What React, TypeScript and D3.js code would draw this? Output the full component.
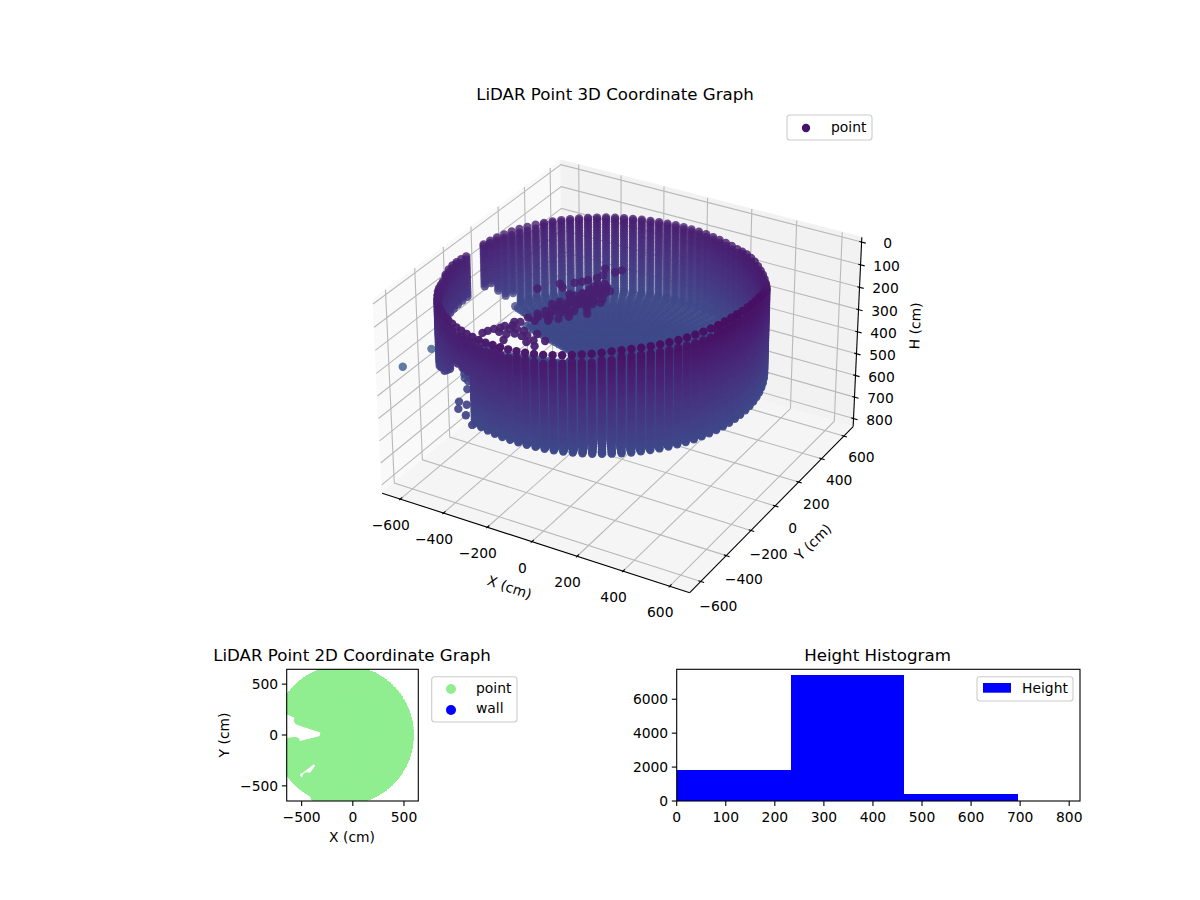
import * as d3 from "d3";
import { useEffect, useRef } from "react";

// wall columns of the scan: azimuth (deg) and the height where each column starts
const wallAzimuths = [
  0, 3.3, 6.6, 9.9, 13.2, 16.5, 19.8, 23.1, 26.4, 29.7,
  33, 36.3, 39.6, 42.9, 46.2, 49.5, 52.8, 56.1, 59.4, 62.7,
  66, 69.3, 72.6, 75.9, 79.2, 82.5, 85.8, 89.1, 92.4, 95.7,
  99, 102.3, 105.6, 108.9, 112.2, 115.5, 118.8, 122.1, 125.4, 128.7,
  132, 135.3, 138.6, 141.9, 145.2, 148.5, 151.8, 155.1, 158.4, 161.7,
  165, 168.3, 171.6, 174.9, 178.2, 181.5, 184.8, 188.1, 191.4, 194.7,
  198, 201.3, 204.6, 207.9, 211.2, 214.5, 217.8, 221.1, 224.4, 227.7,
  231, 234.3, 237.6, 240.9, 244.2, 247.5, 250.8, 254.1, 257.4, 260.7,
  264, 267.3, 270.6, 273.9, 277.2, 280.5, 283.8, 287.1, 290.4, 293.7,
  297, 300.3, 303.6, 306.9, 310.2, 313.5, 316.8, 320.1, 323.4, 326.7,
  330, 333.3, 336.6, 339.9, 343.2, 346.5, 349.8, 353.1, 356.4,
];
const wallTops = [
  2, 6, 10, 16, 25, 36, 49, 62, 74, 84,
  89, 90, 91, 92, 91, 90, 91, 93, 98, 103,
  105, 106, 107, 108, 108, 109, 110, 110, 110, 111,
  111, 112, 112, 112, 112, 112, 112, 112, 112, 112,
  112, 112, 113, 113, 114, 115, 115, 116, 118, 119,
  121, 124, 128, 132, 131, 127, 123, 120, 119, 124,
  134, 130, 125, 120, 118, 116, 110, 104, 100, 97,
  94, 90, 86, 84, 81, 78, 75, 72, 70, 66,
  63, 60, 57, 54, 51, 47, 42, 37, 32, 27,
  22, 17, 12, 9, 7, 6, 5, 4, 3, 2,
  1, 0, -1, -2, -3, -4, -4, -3, -1,
];
const wallRows = [
  12, 24, 36, 48, 60, 72, 84, 96, 108, 120, 132, 144, 156, 168, 180, 192, 204, 216, 228, 240,
  252, 264, 276, 288, 300, 312, 324, 336, 348, 360, 372, 384, 396, 408, 420, 432, 444, 450,
];
// sectors where the wall is cut short (door / window on the left side)
const cutFrom = [155, 158.5, 162, 165, 168.5, 175, 200, 204, 215, 222, 229, 236];
const cutTo = [158.5, 162, 165, 168.5, 175, 200, 204, 215, 222, 229, 236, 250];
const cutDepth = [405, 360, 323, 320, 0, 320, 370, 410, 380, 350, 300, 250];

// the front rim stands apart from the rows below it
const rimStart = 215;
const rimEnd = 25;

const floorHeight = 450;
const floorRadii = [
  20, 40, 60, 80, 100, 120, 140, 160, 180, 200, 220, 240, 260, 280, 300, 320, 340, 360, 380, 400,
  420, 440, 460, 480, 500, 520, 540, 560, 580, 600, 620,
];
// holes in the floor (azimuth range, radius range)
const holeFrom = [163, 158, 219, 203];
const holeTo = [192, 186, 231, 252];
const holeMinR = [155, 470, 380, 560];
const holeMaxR = [470, 700, 550, 700];

const wallRadius = 635;
const roomCenterX = -90;

// furniture and stray returns
const clutterX = [
  -121, -136, -186, -165, -174, -196, -209, -229, -108, -119, -119, -75, -143, -199, -250, -275, -157, -126, -82, -68,
  -159, -109, -60, -217, -210, -176, -210, -161, -205, -330, -248, -268, -283, -255, -231, -277, -306, -318, -327, -245,
  -200, -147, -104, -90, -144, -187, -229, -210, -143, -97, -151, -121, -179, -190, -135, -115,
  -120, -140, -100, -90, -130, -140, -170, -180, -150, -190, -170, -110, -160, -130, -100, -150, -60, -80,
  -260, -290, -220, -170, -130,
  -135, -110, -105, -150, -175, -95, -120, -145, -130, -85, -160, -200, -195, -225, -240, -180, -150, -125,
];
const clutterY = [
  209, 182, 189, 138, 106, 75, 50, 29, 54, 11, -43, 37, -57, -62, -28, -7, -110, -110, -84, -31,
  -147, -217, -162, -162, -221, -202, -275, -283, -308, -84, -343, -354, -399, -409, -396, -449, -439, -464, -487, -449,
  -396, -464, -475, -422, -391, -433, -494, -564, 60, -3, 11, -80, -87, -155, -250, -167,
  30, -20, 10, -60, -130, -90, -120, -170, -200, -250, -260, -100, -30, 25, 60, -65, -60, -130,
  -380, -420, -430, -420, -440,
  10, -30, -70, -40, -60, -110, -190, -170, -70, 15, -180, -130, -200, -255, -300, -240, 40, 80,
];
const clutterHeight = 120;
const clumpX = [-446, -415, -392, -365, -354, -315, -256, -562, -537, -612];
const clumpY = [-415, -469, -564, -611, -569, -636, -684, -385, -280, -188];
const clumpHeight = 400;
const strayX = [-925, -905];
const strayY = [-164, 16];
const strayHeight = 600;

const xTicks3d = [-600, -400, -200, 0, 200, 400, 600];
const yTicks3d = [-600, -400, -200, 0, 200, 400, 600];
const zTicks3d = [0, 100, 200, 300, 400, 500, 600, 700, 800];

const ticks2d = [-500, 0, 500];
const histEdges = [0, 232, 464, 696];
const histCounts = [1841, 7429, 430];
const histXTicks = [0, 100, 200, 300, 400, 500, 600, 700, 800];
const histYTicks = [0, 2000, 4000, 6000];

const FONT = "DejaVu Sans";

type P3 = { x: number; y: number; z: number };

function buildPoints(): P3[] {
  const pts: P3[] = [];
  const rad = Math.PI / 180;
  wallAzimuths.forEach((az, i) => {
    const cut = cutFrom.findIndex((f, k) => az >= f && az < cutTo[k]);
    const bottom = cut >= 0 ? cutDepth[cut] : floorHeight;
    if (bottom === 0) return;
    const x = roomCenterX + wallRadius * Math.cos(az * rad);
    const y = wallRadius * Math.sin(az * rad);
    const gap = az >= rimStart || az < rimEnd ? 26 : 6;
    pts.push({ x, y, z: wallTops[i] });
    wallRows
      .filter((z) => z > wallTops[i] + gap && z <= bottom)
      .forEach((z) => pts.push({ x, y, z }));
  });
  floorRadii.forEach((r) => {
    wallAzimuths.forEach((az) => {
      const inHole = holeFrom.some(
        (f, k) => az >= f && az <= holeTo[k] && r >= holeMinR[k] && r <= holeMaxR[k]
      );
      if (inHole) return;
      pts.push({
        x: roomCenterX + r * Math.cos(az * rad),
        y: r * Math.sin(az * rad),
        z: floorHeight,
      });
    });
  });
  clutterX.forEach((x, i) => pts.push({ x, y: clutterY[i], z: clutterHeight }));
  clumpX.forEach((x, i) => pts.push({ x, y: clumpY[i], z: clumpHeight }));
  strayX.forEach((x, i) => pts.push({ x, y: strayY[i], z: strayHeight }));
  return pts;
}

// same camera maths as a default mplot3d view (elev 30, azim -60, dist 10)
const xBox = d3.scaleLinear().domain([-685, 685]).range([-0.595, 0.595]);
const yBox = d3.scaleLinear().domain([-685, 685]).range([-0.595, 0.595]);
const zBox = d3.scaleLinear().domain([838, -21]).range([-0.375, 0.375]);
const VIEW_SCALE = 2951;
const VIEW_CX = 622;
const VIEW_CY = 365.2;

function project(x: number, y: number, z: number) {
  const qx = xBox(x);
  const qy = yBox(y);
  const qz = zBox(z);
  const vx = 0.866 * qx + 0.5 * qy;
  const vy = -0.25 * qx + 0.433 * qy + 0.866 * qz;
  const depth = 10 - (0.433 * qx - 0.75 * qy + 0.5 * qz);
  return {
    sx: VIEW_CX + (VIEW_SCALE * vx) / depth,
    sy: VIEW_CY - (VIEW_SCALE * vy) / depth,
    depth,
  };
}

type Sel = d3.Selection<SVGGElement, unknown, null, undefined>;

function addText(
  g: Sel,
  str: string,
  x: number,
  y: number,
  size = 13.89,
  anchor = "middle",
  rotate = 0
) {
  g.append("text")
    .attr("transform", `translate(${x},${y}) rotate(${rotate})`)
    .attr("text-anchor", anchor)
    .attr("font-family", FONT)
    .attr("font-size", size)
    .attr("fill", "#000")
    .text(str);
}

function path3d(g: Sel, pts: number[][], stroke: string, width: number, fill = "none") {
  const line = d3.line<number[]>()
    .x((d) => project(d[0], d[1], d[2]).sx)
    .y((d) => project(d[0], d[1], d[2]).sy);
  g.append("path")
    .attr("d", line(pts) + (fill !== "none" ? "Z" : ""))
    .attr("fill", fill)
    .attr("stroke", stroke)
    .attr("stroke-width", width);
}

function drawScene(g: Sel, points: P3[]) {
  const [x0, x1] = xBox.domain();
  const [y0, y1] = yBox.domain();
  const [zb, zt] = zBox.domain();

  // panes
  path3d(g, [[x0, y0, zb], [x0, y1, zb], [x0, y1, zt], [x0, y0, zt]], "#f9f9f9", 1, "#f9f9f9");
  path3d(g, [[x0, y1, zb], [x1, y1, zb], [x1, y1, zt], [x0, y1, zt]], "#f2f2f2", 1, "#f2f2f2");
  path3d(g, [[x0, y0, zb], [x1, y0, zb], [x1, y1, zb], [x0, y1, zb]], "#f5f5f5", 1, "#f5f5f5");

  // grid
  const gridColor = "#b9b9b9";
  xTicks3d.forEach((t) => path3d(g, [[t, y0, zb], [t, y1, zb], [t, y1, zt]], gridColor, 1.1));
  yTicks3d.forEach((t) => path3d(g, [[x1, t, zb], [x0, t, zb], [x0, t, zt]], gridColor, 1.1));
  zTicks3d.forEach((t) => path3d(g, [[x0, y0, t], [x0, y1, t], [x1, y1, t]], gridColor, 1.1));

  // axis lines and ticks
  path3d(g, [[x0, y0, zb], [x1, y0, zb]], "#000", 1.1);
  path3d(g, [[x1, y0, zb], [x1, y1, zb]], "#000", 1.1);
  path3d(g, [[x1, y1, zb], [x1, y1, zt]], "#000", 1.1);
  const fmt = d3.format("d");
  xTicks3d.forEach((t) => {
    path3d(g, [[t, y0 - 8, zb], [t, y0 + 14, zb]], "#000", 1.1);
    const p = project(t, y0, zb);
    addText(g, fmt(t), p.sx - 9.5, p.sy + 31);
  });
  yTicks3d.forEach((t) => {
    path3d(g, [[x1 + 14, t, zb], [x1 - 10, t, zb]], "#000", 1.1);
    const p = project(x1, t, zb);
    addText(g, fmt(t), p.sx + 17.6, p.sy + 27.5 - t * 0.003);
  });
  zTicks3d.forEach((t) => {
    path3d(g, [[x1 + 18, y1, t], [x1 - 10, y1, t]], "#000", 1.1);
    const p = project(x1, y1, t);
    addText(g, fmt(t), p.sx + 26, p.sy + 6);
  });
  addText(g, "X (cm)", 508, 592, 13.89, "middle", 19);
  addText(g, "Y (cm)", 816.5, 545.5, 13.89, "middle", -44.6);
  addText(g, "H (cm)", 920, 326, 13.89, "middle", -88);

  // scatter, painted far to near with depth shading
  const projected = points
    .map((d) => ({ ...d, ...project(d.x, d.y, d.z) }))
    .sort((a, b) => d3.descending(a.depth, b.depth));
  const color = d3.scaleSequential(d3.interpolateViridis).domain([-100, 2400]);
  const shade = d3
    .scaleLinear()
    .domain(d3.extent(projected, (d) => d.depth) as [number, number])
    .range([1, 0.75]);
  g.append("g")
    .selectAll("circle")
    .data(projected)
    .join("circle")
    .attr("cx", (d) => d.sx)
    .attr("cy", (d) => d.sy)
    .attr("r", 4.2)
    .attr("fill", (d) => color(d.z))
    .attr("fill-opacity", (d) => shade(d.depth));
}

function frame(g: Sel, x0: number, x1: number, y0: number, y1: number) {
  g.append("rect")
    .attr("x", x0)
    .attr("y", y0)
    .attr("width", x1 - x0)
    .attr("height", y1 - y0)
    .attr("fill", "none")
    .attr("stroke", "#000")
    .attr("stroke-width", 1.1);
}

function bottomAxis(g: Sel, scale: d3.ScaleLinear<number, number>, ticks: number[], y: number) {
  const fmt = d3.format("d");
  ticks.forEach((t) => {
    g.append("line")
      .attr("x1", scale(t)).attr("x2", scale(t))
      .attr("y1", y).attr("y2", y + 4.9)
      .attr("stroke", "#000").attr("stroke-width", 1.1);
    addText(g, fmt(t), scale(t), y + 21);
  });
}

function leftAxis(g: Sel, scale: d3.ScaleLinear<number, number>, ticks: number[], x: number) {
  const fmt = d3.format("d");
  ticks.forEach((t) => {
    g.append("line")
      .attr("x1", x - 4.9).attr("x2", x)
      .attr("y1", scale(t)).attr("y2", scale(t))
      .attr("stroke", "#000").attr("stroke-width", 1.1);
    addText(g, fmt(t), x - 8.5, scale(t) + 5, 13.89, "end");
  });
}

function legendBox(g: Sel, x: number, y: number, w: number, h: number) {
  g.append("rect")
    .attr("x", x).attr("y", y).attr("width", w).attr("height", h)
    .attr("rx", 3)
    .attr("fill", "#fff").attr("fill-opacity", 0.8)
    .attr("stroke", "#ccc").attr("stroke-width", 1.1);
}

function draw2d(g: Sel, points: P3[]) {
  const L = 286.7, R = 418.3, T = 669.3, B = 801;
  const x = d3.scaleLinear().domain([-646, 640]).range([L, R]);
  const y = d3.scaleLinear().domain([-649, 646]).range([B, T]);
  g.append("clipPath").attr("id", "clip2d").append("rect")
    .attr("x", L).attr("y", T).attr("width", R - L).attr("height", B - T);
  g.append("g")
    .attr("clip-path", "url(#clip2d)")
    .selectAll("circle")
    .data(points)
    .join("circle")
    .attr("cx", (d) => x(d.x))
    .attr("cy", (d) => y(d.y))
    .attr("r", 5)
    .attr("fill", "#90ee90");
  frame(g, L, R, T, B);
  bottomAxis(g, x, ticks2d, B);
  leftAxis(g, y, ticks2d, L);
  addText(g, "LiDAR Point 2D Coordinate Graph", 352, 661, 16.67);
  addText(g, "X (cm)", 352, 842);
  addText(g, "Y (cm)", 229, 735, 13.89, "middle", -90);
  legendBox(g, 431.7, 676.7, 85.3, 45.3);
  g.append("circle").attr("cx", 451).attr("cy", 689).attr("r", 5).attr("fill", "#90ee90");
  g.append("circle").attr("cx", 451).attr("cy", 710).attr("r", 5).attr("fill", "#0000ff");
  addText(g, "point", 476, 693, 13.89, "start");
  addText(g, "wall", 476, 713, 13.89, "start");
}

function drawHist(g: Sel) {
  const L = 676.7, R = 1080, T = 669.3, B = 801;
  const x = d3.scaleLinear().domain([0, 822]).range([L, R]);
  const y = d3.scaleLinear().domain([0, 7765]).range([B, T]);
  g.selectAll("rect.bar")
    .data(histCounts)
    .join("rect")
    .attr("class", "bar")
    .attr("x", (_, i) => x(histEdges[i]))
    .attr("width", (_, i) => x(histEdges[i + 1]) - x(histEdges[i]))
    .attr("y", (d) => y(d))
    .attr("height", (d) => B - y(d))
    .attr("fill", "#0000ff")
    .attr("shape-rendering", "crispEdges");
  frame(g, L, R, T, B);
  bottomAxis(g, x, histXTicks, B);
  leftAxis(g, y, histYTicks, L);
  addText(g, "Height Histogram", 877.5, 661, 16.67);
  legendBox(g, 977, 676.7, 96, 24.3);
  g.append("rect").attr("x", 983).attr("y", 683).attr("width", 28).attr("height", 9.7).attr("fill", "#0000ff");
  addText(g, "Height", 1022, 693, 13.89, "start");
}

export default function App() {
  const ref = useRef<SVGGElement>(null);

  useEffect(() => {
    if (!ref.current) return;
    const root = d3.select(ref.current) as Sel;
    root.selectAll("*").remove();
    const points = buildPoints();

    drawScene(root.append("g") as Sel, points);
    addText(root, "LiDAR Point 3D Coordinate Graph", 615, 100, 16.67);
    legendBox(root, 787, 115, 85, 25);
    root.append("circle").attr("cx", 806).attr("cy", 128).attr("r", 4.2).attr("fill", "#46136a");
    addText(root, "point", 831, 132, 13.89, "start");

    draw2d(root.append("g") as Sel, points);
    drawHist(root.append("g") as Sel);
  }, []);

  return (
    <svg
      width={1200}
      height={900}
      viewBox="0 0 1200 900"
      style={{ position: "absolute", left: 0, top: 0, background: "#fff" }}
    >
      <g ref={ref} />
    </svg>
  );
}
